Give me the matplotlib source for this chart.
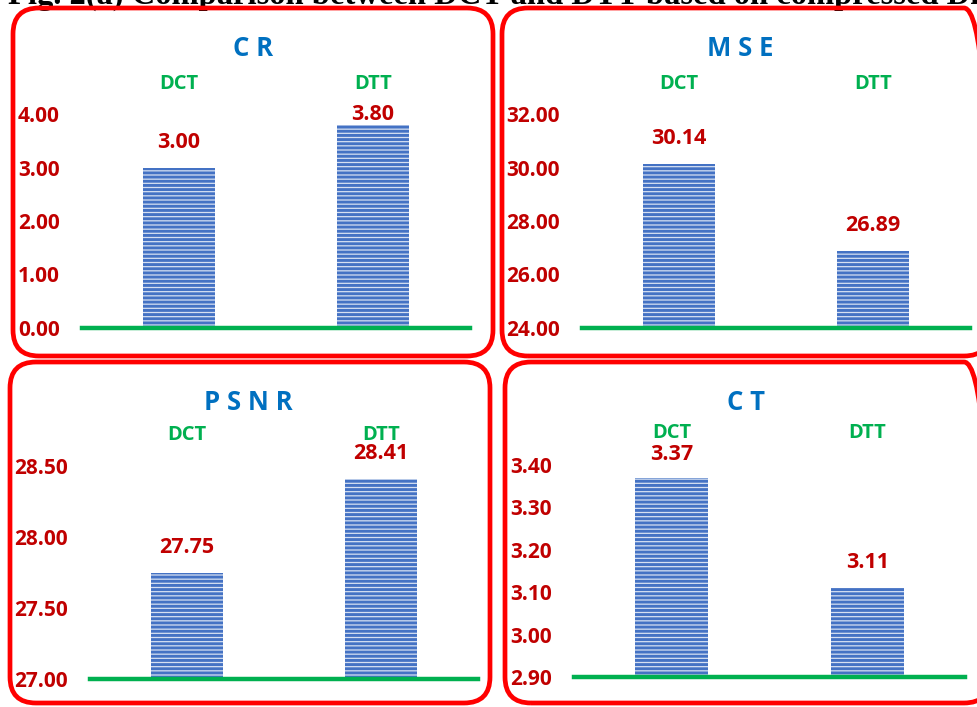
import matplotlib
matplotlib.use("Agg")
import matplotlib.pyplot as plt
from matplotlib.patches import FancyBboxPatch
from matplotlib.transforms import IdentityTransform

W, H = 978, 707
DPI = 100

categories = ["DCT", "DTT"]
panel_titles = ["C R", "M S E", "P S N R", "C T"]
cr_values = [3.00, 3.80]
mse_values = [30.14, 26.89]
psnr_values = [27.75, 28.41]
ct_values = [3.37, 3.11]
cr_ticks = [0.00, 1.00, 2.00, 3.00, 4.00]
mse_ticks = [24.00, 26.00, 28.00, 30.00, 32.00]
psnr_ticks = [27.00, 27.50, 28.00, 28.50]
ct_ticks = [2.90, 3.00, 3.10, 3.20, 3.30, 3.40]
fig_title = "Fig. 2(a) Comparison between DCT and DTT based on compressed Di"

BLUE_T = "#0070C0"
GREEN = "#00B050"
RED_N = "#C00000"
BOX_RED = "#FF0000"
BAR_FACE = "#d6e0f2"
BAR_HATCH = "#4472C4"

FONT = ["Open Sans", "DejaVu Sans"]
plt.rcParams["hatch.linewidth"] = 2.1

fig = plt.figure(figsize=(W / DPI, H / DPI), dpi=DPI)
fig.patch.set_facecolor("white")

def fy(y):
    return H - y

# clipped caption at top
fig.text(494, fy(4), fig_title, transform=IdentityTransform(), ha="center", va="baseline",
         fontsize=23.5, fontweight="bold", family="Liberation Serif", color="black")

# rounded boxes (image pixel coords: x0, y0, x1, y1)
boxes = [(13, 8, 493, 356), (502, 8, 990, 356), (10, 362, 490, 703), (505, 362, 990, 703)]
for x0, y0, x1, y1 in boxes:
    p = FancyBboxPatch((x0, fy(y1)), x1 - x0, y1 - y0,
                       boxstyle="round,pad=0,rounding_size=26",
                       transform=IdentityTransform(), facecolor="none",
                       edgecolor=BOX_RED, linewidth=3.4, zorder=5)
    fig.add_artist(p)

panels = [
    dict(ax=(82, 470, 114, 328), ylim=(0.0, 4.0), ticks=cr_ticks, vals=cr_values,
         title=panel_titles[0], tx=253, ty=49, caty=84, offs=[25, 10]),
    dict(ax=(582, 970, 114, 328), ylim=(24.0, 32.0), ticks=mse_ticks, vals=mse_values,
         title=panel_titles[1], tx=740, ty=49, caty=84, offs=[25, 25]),
    dict(ax=(90, 478, 466, 679), ylim=(27.0, 28.5), ticks=psnr_ticks, vals=psnr_values,
         title=panel_titles[2], tx=248, ty=402, caty=435, offs=[25, 25]),
    dict(ax=(574, 965, 465, 677), ylim=(2.9, 3.4), ticks=ct_ticks, vals=ct_values,
         title=panel_titles[3], tx=746, ty=402, caty=433, offs=[23, 25]),
]

for pn in panels:
    x0, x1, yt, yb = pn["ax"]
    ax = fig.add_axes([x0 / W, (H - yb) / H, (x1 - x0) / W, (yb - yt) / H])
    ax.set_facecolor("none")
    xs = list(range(len(categories)))
    ax.bar(xs, [v - pn["ylim"][0] for v in pn["vals"]], bottom=pn["ylim"][0], width=0.375,
           color=BAR_FACE, edgecolor=BAR_HATCH, linewidth=0, hatch="----", zorder=2)
    ax.set_xlim(-0.5, 1.5)
    ax.set_ylim(*pn["ylim"])
    ax.axhline(pn["ylim"][0], color=GREEN, linewidth=3.2, zorder=3, clip_on=False)
    for s in ax.spines.values():
        s.set_visible(False)
    ax.set_xticks([])
    ax.set_yticks(pn["ticks"])
    ax.set_yticklabels([f"{t:.2f}" for t in pn["ticks"]])
    ax.tick_params(axis="y", length=0, pad=16, labelcolor=RED_N, labelsize=15)
    for lab in ax.get_yticklabels():
        lab.set_fontweight("bold")
        lab.set_family(FONT)
    for i, v in enumerate(pn["vals"]):
        ax.annotate(f"{v:.2f}", xy=(i, v), xytext=(0, pn["offs"][i]), textcoords="offset pixels",
                    ha="center", va="center", color=RED_N, fontsize=15.5, fontweight="bold",
                    family=FONT, annotation_clip=False)
        ax.annotate(categories[i], xy=(i, fy(pn["caty"])), xycoords=("data", "figure pixels"),
                    ha="center", va="center", color=GREEN, fontsize=14.5, fontweight="bold",
                    family=FONT, annotation_clip=False)
    fig.text(pn["tx"], fy(pn["ty"]), pn["title"], transform=IdentityTransform(),
             ha="center", va="center", color=BLUE_T, fontsize=18.5, fontweight="bold", family=FONT)

fig.savefig("out.png", dpi=DPI, facecolor="white")
